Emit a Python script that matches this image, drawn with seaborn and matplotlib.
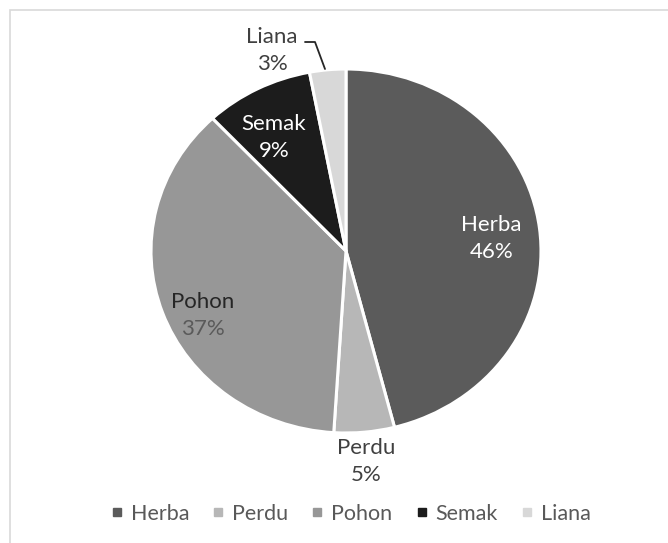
import matplotlib
matplotlib.use("Agg")
import matplotlib.pyplot as plt
import seaborn as sns
import numpy as np
from matplotlib.lines import Line2D
from matplotlib.patches import Rectangle

categories = ["Herba", "Perdu", "Pohon", "Semak", "Liana"]
values = [46, 5, 37, 9, 3]
pct_labels = ["46%", "5%", "37%", "9%", "3%"]
colors = ["#5b5b5b", "#b7b7b7", "#979797", "#1c1c1c", "#d8d8d8"]

sns.set_theme(style="white")
plt.rcParams["font.family"] = ["Lato", "DejaVu Sans"]

W, H = 668, 543
fig = plt.figure(figsize=(W / 100, H / 100), dpi=100)
fig.patch.set_facecolor("white")

# outer frame (only top and left edges are visible in the crop)
fig.add_artist(Rectangle((10 / W, -0.05), 1.05, 1.05 - 10 / H,
                         transform=fig.transFigure, fill=False,
                         edgecolor="#d9d9d9", linewidth=1.2))

cx, cy, rx, ry = 346, 251, 195, 182
pad = 1.1
ax = fig.add_axes([(cx - rx * pad) / W, 1 - (cy + ry * pad) / H,
                   2 * rx * pad / W, 2 * ry * pad / H])
wedges, _ = ax.pie(values, colors=colors, startangle=90, counterclock=False,
                   radius=1.0,
                   wedgeprops=dict(edgecolor="white", linewidth=2.2))
ax.set_aspect("auto")
ax.set_xlim(-pad, pad)
ax.set_ylim(-pad, pad)
ax.axis("off")

# label layout (data coords relative to unit pie)
label_pos = {
    "Herba": (0.746, 0.069),
    "Perdu": (0.103, -1.157),
    "Pohon": (-0.736, -0.352),
    "Semak": (-0.369, 0.624),
    "Liana": (-0.379, 1.104),
}
text_colors = {"Herba": "white", "Perdu": "#404040", "Pohon": "#262626",
               "Semak": "white", "Liana": "#404040"}
pct_colors = {"Herba": "white", "Perdu": "#404040", "Pohon": "#5a5a5a",
              "Semak": "white", "Liana": "#404040"}
dy = 0.074
for cat, pct in zip(categories, pct_labels):
    x, y = label_pos[cat]
    ax.text(x, y + dy, cat, ha="center", va="center", fontsize=16,
            color=text_colors[cat])
    ax.text(x, y - dy, pct, ha="center", va="center", fontsize=16,
            color=pct_colors[cat])

# leader line for Liana
ax.plot([(305 - cx) / rx, (315 - cx) / rx, (325 - cx) / rx],
        [(cy - 42) / ry, (cy - 42) / ry, (cy - 69) / ry],
        color="#262626", linewidth=1.3, clip_on=False)

handles = [Line2D([0], [0], marker="s", linestyle="none", markersize=6,
                  markerfacecolor=c, markeredgecolor=c) for c in colors]
fig.legend(handles, categories, loc="center", ncol=5,
           bbox_to_anchor=(351 / W, 1 - 514 / H), frameon=False,
           fontsize=15.5, labelcolor="#595959", handlelength=0.5,
           handletextpad=0.4, columnspacing=1.1)

fig.savefig("out.png", dpi=100, facecolor="white")
